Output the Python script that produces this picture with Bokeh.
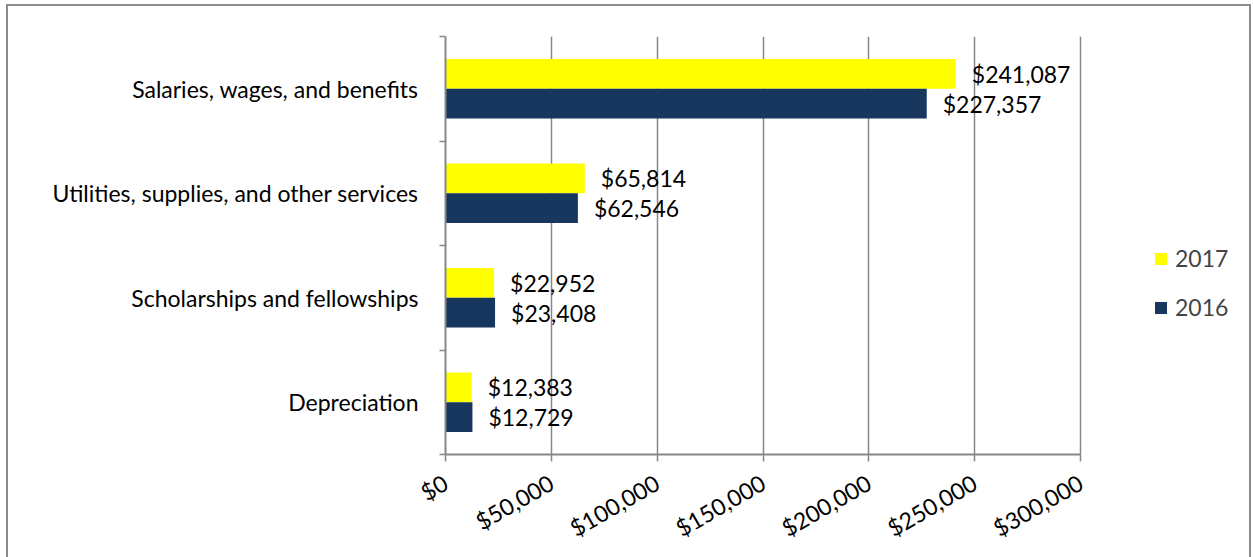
import math
from bokeh.plotting import figure
from bokeh.models import (Range1d, FixedTicker, NumeralTickFormatter, ColumnDataSource,
                          LabelSet, Legend, LegendItem)
from bokeh.core.properties import value
from bokeh.transform import dodge
from bokeh.embed import file_html
from bokeh.resources import INLINE

# ---- data ----
categories = ["Depreciation", "Scholarships and fellowships",
              "Utilities, supplies, and other services", "Salaries, wages, and benefits"]
values_2017 = [12383, 22952, 65814, 241087]
values_2016 = [12729, 23408, 62546, 227357]
series_names = ["2017", "2016"]
x_ticks = [0, 50000, 100000, 150000, 200000, 250000, 300000]
x_max = 300000

FONT = "Lato"
FS = "23px"
GRAY = "#878787"
YELLOW = "#FFFF00"
NAVY = "#17375E"

src = ColumnDataSource(dict(
    y=list(range(len(categories))),
    v2017=values_2017,
    v2016=values_2016,
    l2017=["${:,}".format(v) for v in values_2017],
    l2016=["${:,}".format(v) for v in values_2016],
))

# the value axis spans 635 px; the frame is widened to 800 px so the legend fits inside it
AXIS_PX, FRAME_PX = 635, 800
p = figure(width=1241, height=551,
           x_range=Range1d(0, x_max * FRAME_PX / AXIS_PX), y_range=Range1d(-0.5, 3.5),
           output_backend="svg", toolbar_location=None,
           min_border_left=437, min_border_right=1241 - 437 - FRAME_PX,
           min_border_top=30, min_border_bottom=99)
p.outline_line_color = None
p.styles = {"outline": "2px solid #8c8c8c", "margin-left": "8px", "margin-top": "6px"}

off = 0.142
bh = 0.284
r17 = p.hbar(y=dodge("y", off, range=p.y_range), left=0, right="v2017", height=bh, source=src,
             fill_color=YELLOW, line_color=None)
r16 = p.hbar(y=dodge("y", -off, range=p.y_range), left=0, right="v2016", height=bh, source=src,
             fill_color=NAVY, line_color=None)

for fld, lab, d in (("v2017", "l2017", off), ("v2016", "l2016", -off)):
    p.add_layout(LabelSet(x=fld, y=dodge("y", d, range=p.y_range), text=lab, source=src,
                          x_offset=16, text_baseline="middle", text_font=value(FONT),
                          text_font_size=FS, text_color="#000000"))

# x axis
p.xaxis.bounds = (0, x_max)
p.xaxis.ticker = FixedTicker(ticks=x_ticks, minor_ticks=[])
p.xaxis.formatter = NumeralTickFormatter(format="$0,0")
p.xaxis.major_label_orientation = math.pi / 6
p.xaxis.axis_line_color = GRAY
p.xaxis.axis_line_width = 2
p.xaxis.major_tick_line_color = GRAY
p.xaxis.major_tick_line_width = 1.5
p.xaxis.major_tick_out = 7
p.xaxis.major_tick_in = 0
p.xaxis.major_label_standoff = 19
p.xaxis.major_label_text_font = FONT
p.xaxis.major_label_text_font_size = FS
p.xaxis.major_label_text_color = "#000000"
p.xgrid.ticker = FixedTicker(ticks=x_ticks)
p.xgrid.grid_line_color = GRAY
p.xgrid.grid_line_width = 1.5
p.ygrid.grid_line_color = None

# y axis
p.yaxis.ticker = FixedTicker(ticks=[0, 1, 2, 3], minor_ticks=[-0.5, 0.5, 1.5, 2.5, 3.5])
p.yaxis.major_label_overrides = {i: c for i, c in enumerate(categories)}
p.yaxis.axis_line_color = GRAY
p.yaxis.axis_line_width = 2
p.yaxis.major_tick_line_color = None
p.yaxis.major_tick_out = 0
p.yaxis.major_tick_in = 0
p.yaxis.minor_tick_line_color = GRAY
p.yaxis.minor_tick_line_width = 1.5
p.yaxis.minor_tick_out = 6
p.yaxis.minor_tick_in = 0
p.yaxis.major_label_standoff = 21
p.yaxis.major_label_text_font = FONT
p.yaxis.major_label_text_font_size = FS
p.yaxis.major_label_text_color = "#000000"

legend = Legend(items=[LegendItem(label=series_names[0], renderers=[r17]),
                       LegendItem(label=series_names[1], renderers=[r16])],
                location=(708, 133), glyph_width=15, glyph_height=15, label_height=24,
                label_standoff=7, spacing=21, padding=0, margin=0,
                border_line_color=None, background_fill_alpha=0,
                label_text_font=FONT, label_text_font_size=FS)
p.add_layout(legend, "center")

open("out.html", "w").write(file_html(p, INLINE))
